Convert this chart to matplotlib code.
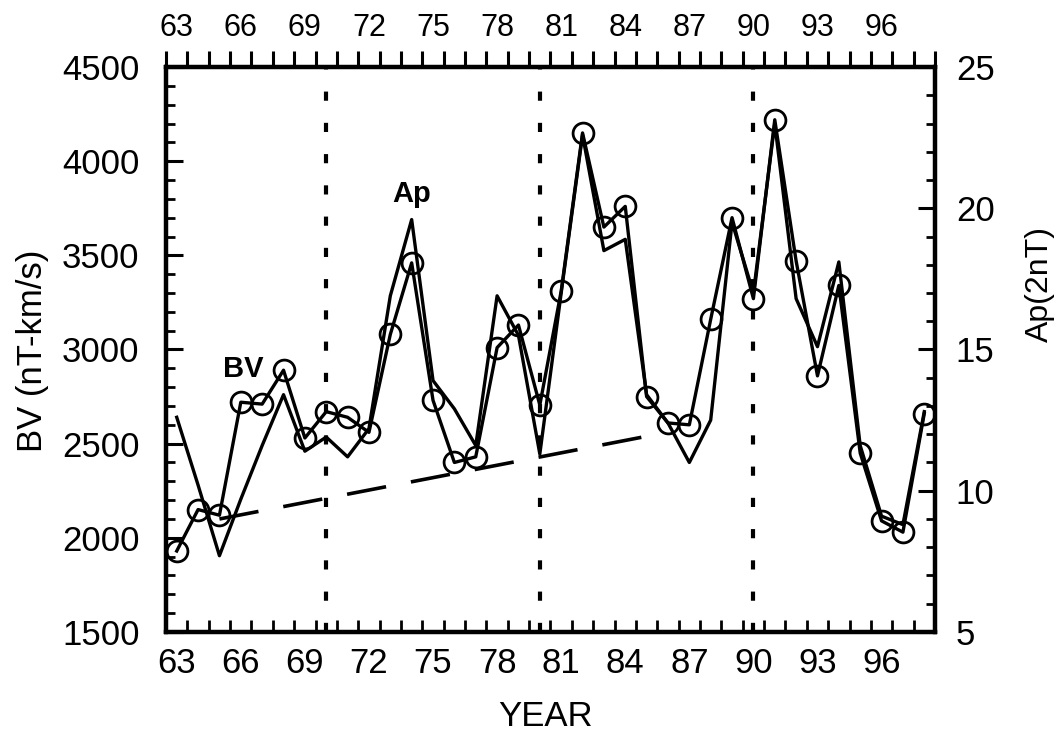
import numpy as np
import matplotlib.pyplot as plt
from matplotlib.ticker import MultipleLocator, FixedLocator

plt.rcParams['font.family'] = ['Liberation Sans', 'DejaVu Sans']

# --- data ---
years = np.arange(63, 99)
bv = [1930, 2150, 2120, 2720, 2710, 2890, 2530, 2670, 2640, 2560,
      3080, 3460, 2730, 2400, 2430, 3010, 3130, 2705, 3310, 4150,
      3650, 3760, 2750, 2610, 2600, 3160, 3700, 3270, 4220, 3470,
      2860, 3340, 2450, 2090, 2030, 2660]
ap = [12.6, 10.2, 7.7, 9.7, 11.6, 13.4, 11.4, 11.9, 11.2, 12.2,
      16.9, 19.6, 13.9, 12.9, 11.6, 16.9, 15.5, 11.3, 17.0, 22.6,
      18.5, 18.9, 13.4, 12.4, 11.0, 12.5, 19.5, 17.0, 23.0, 16.8,
      15.1, 18.1, 11.6, 9.1, 8.8, 12.8]
trend_years = [65, 85.5]
trend_bv = [2100, 2550]
cycle_years = [70, 80, 90]
year_ticks = np.arange(63, 97, 3)

fig = plt.figure(figsize=(10.61, 7.34), dpi=100)
ax = fig.add_axes([0.1565, 0.139, 0.7247, 0.7697])
ax2 = ax.twinx()
ax3 = ax.twiny()

# BV with open circles
ax.plot(years, bv, color='black', lw=2.4, marker='o', ms=15, mfc='none',
        mec='black', mew=2.0, zorder=3)
# trend line
ax.plot(trend_years, trend_bv, color='black', lw=2.6, dashes=(11, 7))
# cycle boundaries
for yr in cycle_years:
    ax.axvline(yr, color='black', lw=3.0, dashes=(2.2, 5.3))

# Ap on the right axis
ax2.plot(years, ap, color='black', lw=2.4)

ax.set_xlim(62.5, 98.5)
ax.set_ylim(1500, 4500)
ax2.set_ylim(5, 25)
ax3.set_xlim(62.5, 98.5)

ax.xaxis.set_major_locator(FixedLocator(year_ticks))
ax.xaxis.set_minor_locator(FixedLocator(np.arange(63.5, 98, 1)))
ax.set_xticklabels([str(y) for y in year_ticks])
ax3.xaxis.set_major_locator(FixedLocator(year_ticks))
ax3.set_xticklabels([str(y) for y in year_ticks])

ax.yaxis.set_major_locator(MultipleLocator(500))
ax.yaxis.set_minor_locator(MultipleLocator(100))
ax2.yaxis.set_major_locator(MultipleLocator(5))
ax2.yaxis.set_minor_locator(MultipleLocator(1))

ax.tick_params(axis='x', which='major', length=0, pad=11, labelsize=25)
ax.tick_params(axis='x', which='minor', direction='in', length=9, width=2)
ax3.tick_params(axis='x', which='major', length=0, pad=17, labelsize=22)
ax.tick_params(axis='y', which='major', direction='in', length=12, width=2.2,
               pad=19, labelsize=25)
ax.tick_params(axis='y', which='minor', direction='in', length=6.5, width=2)
ax2.tick_params(axis='y', which='major', direction='in', length=12, width=2.2,
                pad=15, labelsize=25)
ax2.tick_params(axis='y', which='minor', direction='in', length=6.5, width=2)

for a in (ax, ax2, ax3):
    for s in a.spines.values():
        s.set_linewidth(3.0)

# top year ticks stick out above the frame (drawn last, on the top axes)
ax3.vlines(np.arange(62.5, 99, 1), 1.0, 1.028, transform=ax3.get_xaxis_transform(),
           color='black', lw=2.2, clip_on=False, zorder=10)

fig.text(546 / 1061, 1 - 717 / 734, 'YEAR', fontsize=25, ha='center', va='center')
fig.text(33 / 1061, 1 - 351 / 734, 'BV (nT-km/s)', fontsize=25,
         rotation=90, ha='center', va='center')
fig.text(1040 / 1061, 1 - 284 / 734, 'Ap(2nT)', fontsize=23,
         rotation=90, ha='center', va='center')

ax.text(66.1, 2854, 'BV', fontsize=21, fontweight='bold', ha='center', va='baseline')
ax.text(74.0, 3783, 'Ap', fontsize=21, fontweight='bold', ha='center', va='baseline')

fig.savefig('out.png', dpi=100)
